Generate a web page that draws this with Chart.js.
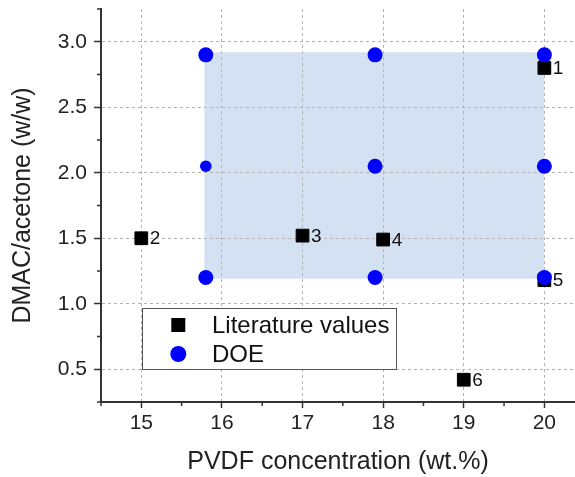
<!DOCTYPE html>
<html>
<head>
<meta charset="utf-8">
<script src="https://cdn.jsdelivr.net/npm/chart.js@4.4.1/dist/chart.umd.min.js"></script>
<style>
  html, body { margin: 0; padding: 0; background: #ffffff; }
  #wrap { width: 575px; height: 477px; position: relative; }
</style>
</head>
<body>
<div id="wrap"><canvas id="c" width="575" height="477"></canvas></div>
<script>
// ---------- DATA ----------
const litNames = ['1', '2', '3', '4', '5', '6'];
const litX = [20, 15, 17, 18, 20, 19];
const litY = [2.80, 1.50, 1.52, 1.49, 1.18, 0.42];

const doeX = [15.8, 17.9, 20.0, 15.8, 17.9, 20.0, 15.8, 17.9, 20.0];
const doeY = [2.90, 2.90, 2.90, 2.05, 2.05, 2.05, 1.20, 1.20, 1.20];

const regionX = [15.78, 20.0];   // shaded design region (PVDF)
const regionY = [1.19, 2.92];    // shaded design region (DMAC/acetone)

const xTicks = [15, 16, 17, 18, 19, 20];
const yTicks = [0.5, 1.0, 1.5, 2.0, 2.5, 3.0];
const xMinor = [14.5, 15.5, 16.5, 17.5, 18.5, 19.5];
const yMinor = [0.25, 0.75, 1.25, 1.75, 2.25, 2.75, 3.25];

const seriesNames = ['Literature values', 'DOE'];
const xTitle = 'PVDF concentration (wt.%)';
const yTitle = 'DMAC/acetone (w/w)';

// ---------- STYLE ----------
const FONT = "'Liberation Sans', Arial, Helvetica, sans-serif";
Chart.defaults.font.family = FONT;
Chart.defaults.color = '#222';
const AXIS = '#333';
const GRID = '#b4b4b4';
const doeRadii = [7.5, 7.5, 7.5, 5.8, 7.5, 7.5, 7.5, 7.5, 7.5];

const litData = litX.map((x, i) => ({ x: x, y: litY[i] }));
const doeData = doeX.map((x, i) => ({ x: x, y: doeY[i] }));
const regionData = [{ x: regionX[0], y: regionY[1] }, { x: regionX[1], y: regionY[1] }];

const minorTicks = {
  id: 'minorTicks',
  afterDraw(chart) {
    const ctx = chart.ctx, xs = chart.scales.x, ys = chart.scales.y;
    ctx.save();
    ctx.strokeStyle = AXIS;
    ctx.lineWidth = 1.5;
    ctx.beginPath();
    xMinor.forEach(v => {
      const p = xs.getPixelForValue(v);
      ctx.moveTo(p, xs.top); ctx.lineTo(p, xs.top + 4);
    });
    yMinor.forEach(v => {
      const p = ys.getPixelForValue(v);
      ctx.moveTo(ys.right, p); ctx.lineTo(ys.right - 4, p);
    });
    ctx.stroke();
    ctx.restore();
  }
};

const pointLabels = {
  id: 'pointLabels',
  afterDatasetsDraw(chart) {
    const meta = chart.getDatasetMeta(1);
    const ctx = chart.ctx;
    ctx.save();
    ctx.font = '19px ' + FONT;
    ctx.fillStyle = '#111';
    ctx.textAlign = 'left';
    ctx.textBaseline = 'middle';
    meta.data.forEach((pt, i) => {
      ctx.fillText(litNames[i], pt.x + 8.5, pt.y + 1);
    });
    ctx.restore();
  }
};

const boxLegend = {
  id: 'boxLegend',
  afterDraw(chart) {
    const ctx = chart.ctx;
    const L = 142, T = 308, W = 254, H = 61;
    ctx.save();
    ctx.fillStyle = '#ffffff';
    ctx.fillRect(L, T, W, H);
    ctx.strokeStyle = '#555';
    ctx.lineWidth = 1;
    ctx.strokeRect(L + 0.5, T + 0.5, W, H);
    ctx.fillStyle = '#000';
    ctx.fillRect(178.3 - 7, 325 - 7, 14, 14);
    ctx.fillStyle = '#0000ff';
    ctx.beginPath();
    ctx.arc(178.3, 354, 8, 0, Math.PI * 2);
    ctx.fill();
    ctx.fillStyle = '#111';
    ctx.font = '24px ' + FONT;
    ctx.textAlign = 'left';
    ctx.textBaseline = 'middle';
    ctx.fillText(seriesNames[0], 212, 326);
    ctx.fillText(seriesNames[1], 212, 355.5);
    ctx.restore();
  }
};

new Chart(document.getElementById('c'), {
  type: 'scatter',
  data: {
    datasets: [
      {
        label: seriesNames[1],
        data: doeData,
        order: 0,
        pointStyle: 'circle',
        pointRadius: ctx => doeRadii[ctx.dataIndex] || 7.5,
        pointHoverRadius: ctx => doeRadii[ctx.dataIndex] || 7.5,
        backgroundColor: '#0000ff',
        borderColor: '#0000ff',
        borderWidth: 0
      },
      {
        label: seriesNames[0],
        data: litData,
        order: 1,
        pointStyle: 'rect',
        pointRadius: 9,
        pointHoverRadius: 9,
        backgroundColor: '#000000',
        borderColor: '#000000',
        borderWidth: 1
      },
      {
        type: 'line',
        label: 'region',
        data: regionData,
        order: 2,
        pointRadius: 0,
        pointHoverRadius: 0,
        borderWidth: 0,
        borderColor: 'rgba(0,0,0,0)',
        backgroundColor: '#d4e1f2',
        fill: { value: regionY[0] },
        tension: 0
      }
    ]
  },
  options: {
    responsive: false,
    animation: false,
    devicePixelRatio: 1,
    events: [],
    layout: { autoPadding: false, padding: { top: 9, right: 0, left: 0, bottom: 0 } },
    plugins: {
      legend: { display: false },
      tooltip: { enabled: false },
      filler: { drawTime: 'beforeDraw' }
    },
    scales: {
      x: {
        type: 'linear',
        position: 'bottom',
        min: 14.5,
        max: 20.38,
        afterBuildTicks: s => { s.ticks = xTicks.map(v => ({ value: v })); },
        afterFit: s => { s.height = 75; s.paddingLeft = 0; s.paddingRight = 0; },
        ticks: {
          autoSkip: false, maxRotation: 0, minRotation: 0,
          padding: 3,
          color: '#222',
          font: { size: 21 },
          callback: v => String(v)
        },
        grid: {
          color: GRID, lineWidth: 1,
          drawTicks: true, tickLength: 6, tickColor: AXIS, tickWidth: 1.5
        },
        border: { display: true, color: AXIS, width: 2, dash: [3, 3] },
        title: {
          display: true, text: xTitle, color: '#222',
          font: { size: 25 }, padding: { top: 0, bottom: 0 }
        }
      },
      y: {
        type: 'linear',
        position: 'left',
        min: 0.25,
        max: 3.25,
        afterBuildTicks: s => { s.ticks = yTicks.map(v => ({ value: v })); },
        afterFit: s => { s.width = 101; s.paddingTop = 0; s.paddingBottom = 0; },
        ticks: {
          padding: 7,
          color: '#222',
          font: { size: 21 },
          callback: v => Number(v).toFixed(1)
        },
        grid: {
          color: GRID, lineWidth: 1,
          drawTicks: true, tickLength: 7, tickColor: AXIS, tickWidth: 1.5
        },
        border: { display: true, color: AXIS, width: 2, dash: [3, 3] },
        title: {
          display: true, text: yTitle, color: '#222',
          font: { size: 25 }, padding: { top: 8, bottom: 0 }
        }
      }
    }
  },
  plugins: [minorTicks, pointLabels, boxLegend]
});
</script>
</body>
</html>
